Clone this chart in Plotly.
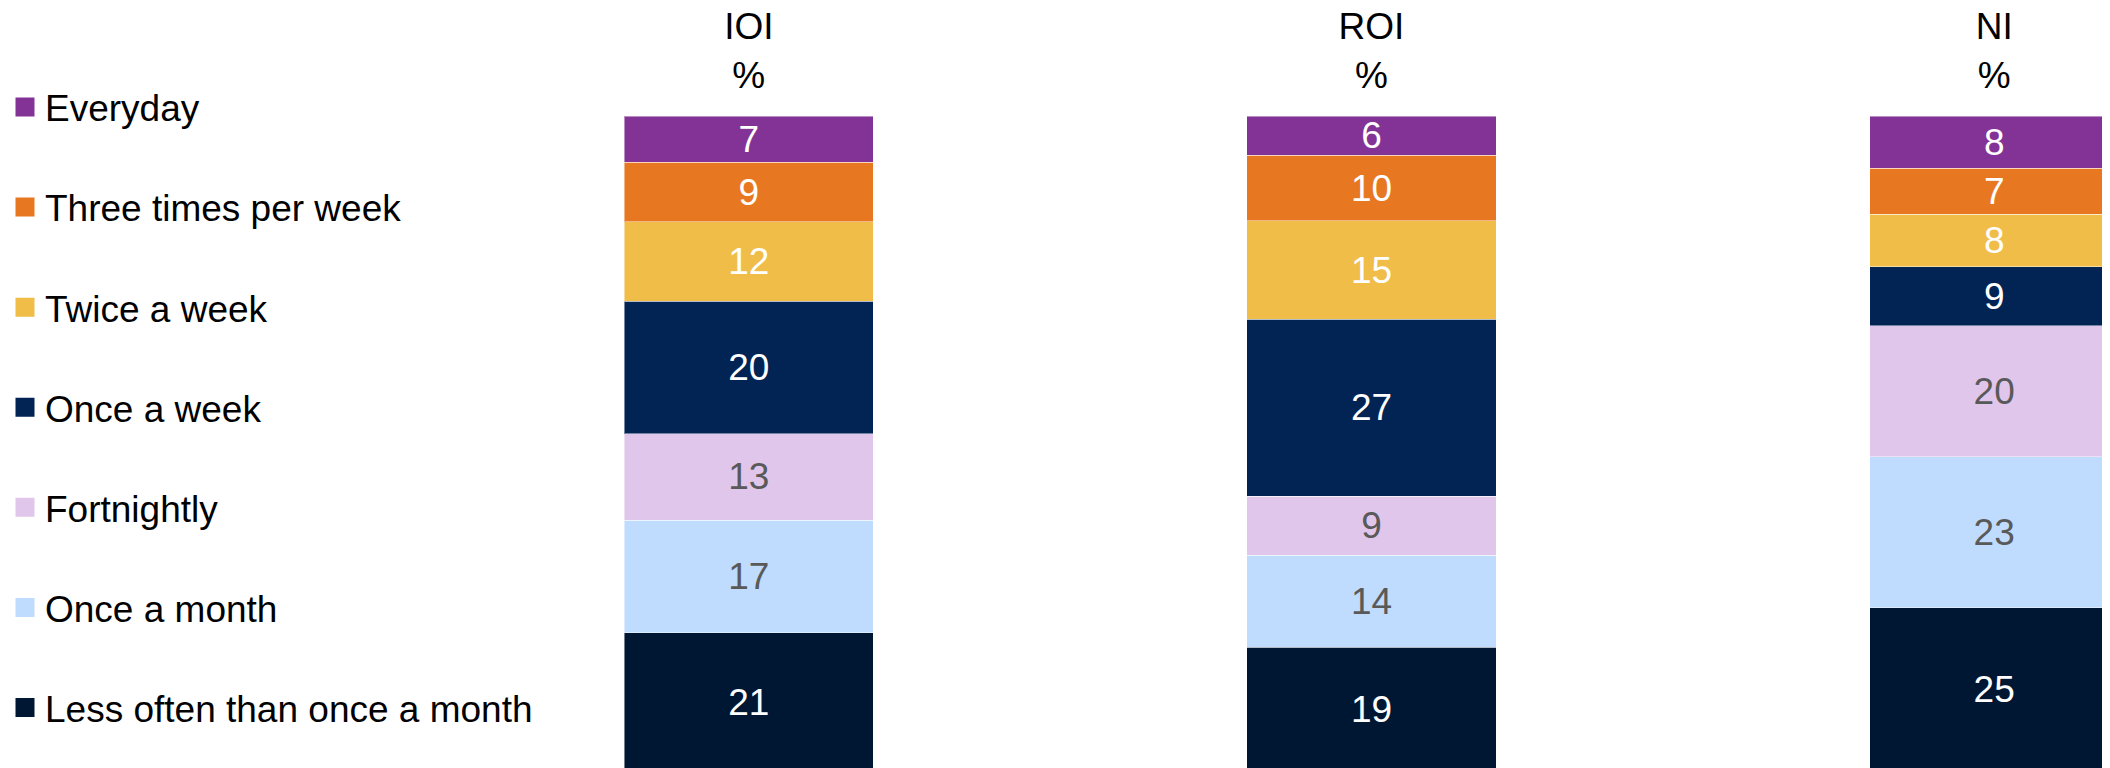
import plotly.graph_objects as go

regions = ["IOI", "ROI", "NI"]
region_titles = ["IOI<br>%", "ROI<br>%", "NI<br>%"]

# stack order bottom -> top
categories = [
    "Less often than once a month",
    "Once a month",
    "Fortnightly",
    "Once a week",
    "Twice a week",
    "Three times per week",
    "Everyday",
]
less_often = [21, 19, 25]
once_month = [17, 14, 23]
fortnightly = [13, 9, 20]
once_week = [20, 27, 9]
twice_week = [12, 15, 8]
three_times = [9, 10, 7]
everyday = [7, 6, 8]

series = [less_often, once_month, fortnightly, once_week, twice_week, three_times, everyday]
colors = ["#001733", "#BFDBFD", "#E1C6EC", "#012454", "#F0BD48", "#E87722", "#833396"]
text_colors = ["#FFFFFF", "#595959", "#595959", "#FFFFFF", "#FFFFFF", "#FFFFFF", "#FFFFFF"]

FONT = "Liberation Sans, Arial, sans-serif"
FS = 37

x_pos = list(range(len(regions)))

fig = go.Figure()
for name, vals, col, tcol in zip(categories, series, colors, text_colors):
    fig.add_trace(go.Bar(
        x=x_pos, y=vals, name=name,
        marker=dict(color=col, line=dict(color="rgba(255,255,255,0.45)", width=1)),
        width=0.4,
        text=[str(v) for v in vals],
        textposition="inside",
        insidetextanchor="middle",
        textangle=0,
        constraintext="none",
        textfont=dict(family=FONT, size=FS, color=tcol),
        showlegend=False,
        hoverinfo="skip",
    ))

# legend entries, top of list = top of stack
leg_names = categories[::-1]
leg_colors = colors[::-1]
for i, (name, col) in enumerate(zip(leg_names, leg_colors)):
    fig.add_trace(go.Scatter(
        x=[None], y=[None], mode="markers", name=name,
        marker=dict(symbol="square", size=16, color=col, line=dict(color=col, width=3)),
        legendgroup="g%d" % i,
        showlegend=True,
    ))

fig.update_layout(
    width=2110, height=768,
    template="none",
    barmode="stack", barnorm="percent",
    paper_bgcolor="white", plot_bgcolor="white",
    margin=dict(l=0, r=0, t=108, b=0, pad=0, autoexpand=False),
    font=dict(family=FONT, size=FS, color="#000000"),
    uniformtext=dict(minsize=FS, mode="show"),
    legend=dict(
        x=-3 / 2110, y=1.06, xanchor="left", yanchor="top",
        traceorder="grouped", tracegroupgap=49,
        maxheight=760,
        font=dict(family=FONT, size=FS, color="#000000"),
        bgcolor="rgba(0,0,0,0)", borderwidth=0,
        itemclick=False, itemdoubleclick=False,
    ),
    xaxis=dict(
        range=[-740.8 / 622.7, (2110 - 740.8) / 622.7],
        side="top", tickmode="array", tickvals=x_pos, ticktext=region_titles,
        showgrid=False, zeroline=False, showline=False, ticks="",
        ticklabelstandoff=20,
        tickfont=dict(family=FONT, size=FS, color="#000000"),
        automargin=False, fixedrange=True,
    ),
    yaxis=dict(
        range=[100 - 660 / 6.557, 100],
        visible=False, showgrid=False, zeroline=False,
        automargin=False, fixedrange=True,
    ),
)

fig.write_html("out.html", config={"displayModeBar": False})
